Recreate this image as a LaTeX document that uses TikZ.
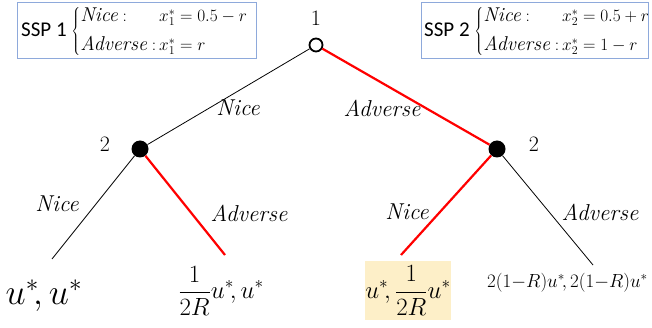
\documentclass[tikz,border=0pt]{standalone}
\usepackage{fontspec}
\newfontfamily\sspfont{Carlito}
\newcommand\itx{\itshape}
\newcommand\tw[1]{\mbox{\fontsize{20}{22}\selectfont\itshape #1}}
\begin{document}
\begin{tikzpicture}[x=1pt,y=-1pt,
  opennode/.style={circle,draw=black,line width=1.8pt,fill=white,minimum size=13pt,inner sep=0pt},
  dotnode/.style={circle,fill=black,minimum size=17pt,inner sep=0pt},
  plainedge/.style={draw=black,line width=0.8pt},
  chosenedge/.style={draw=red,line width=2.2pt},
  elabel/.style={font=\fontsize{23}{25}\selectfont\itx,inner sep=0pt},
  plabel/.style={font=\fontsize{22}{24}\selectfont,inner sep=0pt},
  leaf/.style={font=\fontsize{24}{26}\selectfont,inner sep=0pt},
  sspbox/.style={draw={rgb,255:red,142;green,169;blue,219},line width=0.9pt,inner sep=0pt},
  ssptext/.style={inner sep=0pt,font=\fontsize{17}{19}\selectfont}
]
\useasboundingbox (0,0) rectangle (652,328);

% decision nodes
\node[opennode] (r) at (316,45) {};
\node[dotnode] (a) at (140,149) {};
\node[dotnode] (b) at (497,149) {};

% end points
\coordinate (aa) at (52,259);
\coordinate (ab) at (225,255);
\coordinate (ba) at (401,255);
\coordinate (bb) at (593,265);

% edges
\draw[plainedge] (r) -- (a);
\draw[chosenedge] (r) -- (b);
\draw[plainedge] (a) -- (aa);
\draw[chosenedge] (a) -- (ab);
\draw[chosenedge] (b) -- (ba);
\draw[plainedge] (b) -- (bb);

% player labels
\node[plabel] (p1) at (316,18) {1};
\node[plabel] (p2a) at (105,144) {2};
\node[plabel] (p2b) at (534,144) {2};

% edge labels
\node[elabel] (n1) at (238,108) {Nice};
\node[elabel] (d1) at (382,108) {Adverse};
\node[elabel] (n2) at (57,204) {Nice};
\node[elabel] (d2) at (249,213) {Adverse};
\node[elabel] (n3) at (407,212) {Nice};
\node[elabel] (d3) at (600,212) {Adverse};

% payoffs
\node[inner sep=0pt,font=\fontsize{24}{26}\selectfont,scale=1.45] (u1) at (44,296) {$u^{*}\!,u^{*}$};
\node[leaf] (u2) at (221,291) {$\displaystyle\frac{1}{2R}u^{*}\!,u^{*}$};
\node[leaf,fill={rgb,255:red,253;green,239;blue,200},minimum width=86pt,minimum height=59pt] (u3) at (408,290.5) {$\displaystyle u^{*}\!,\frac{1}{2R}u^{*}$};
\node[inner sep=0pt,font=\fontsize{17.28}{19}\selectfont,scale=1.1,anchor=west] (u4) at (487,283) {$2(1{-}R)u^{*}\!,2(1{-}R)u^{*}$};

% SSP boxes
\node[sspbox,minimum width=239pt,minimum height=56pt] (s1) at (136.5,30) {};
\node[ssptext,anchor=west] (s1t) at (21,32)
  {{\sspfont\fontsize{21}{23}\selectfont SSP 1}\;$\left\{\begin{array}{@{}l@{\,}l@{}}\tw{Nice}: & x_1^{*}=0.5-r\\[9pt] \tw{Adverse}: & x_1^{*}=r\end{array}\right.$};
\node[sspbox,minimum width=227pt,minimum height=56pt] (s2) at (534.5,30) {};
\node[ssptext,anchor=west] (s2t) at (424,32)
  {{\sspfont\fontsize{21}{23}\selectfont SSP 2}\;$\left\{\begin{array}{@{}l@{\,}l@{}}\tw{Nice}: & x_2^{*}=0.5+r\\[9pt] \tw{Adverse}: & x_2^{*}=1-r\end{array}\right.$};
\end{tikzpicture}
\end{document}
